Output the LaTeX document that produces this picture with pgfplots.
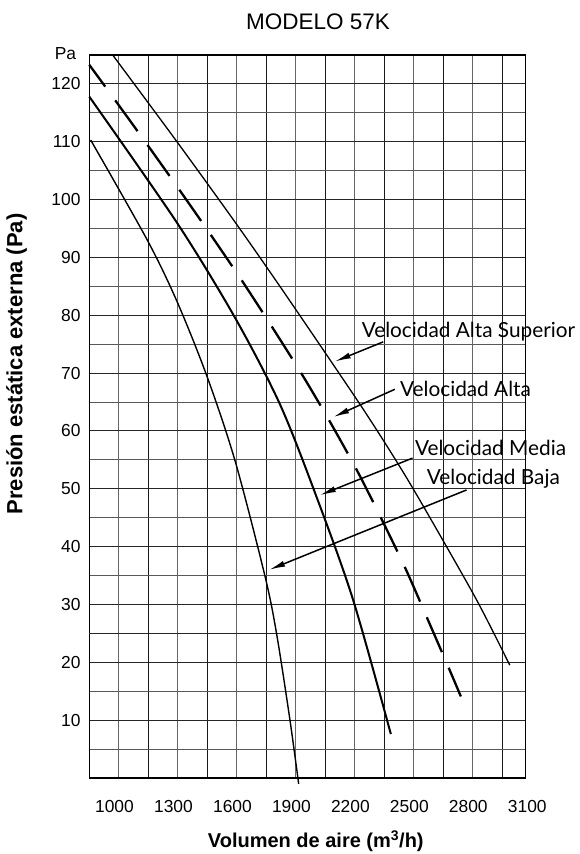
\documentclass[border=0pt]{standalone}
\usepackage{fontspec}
\setmainfont{Liberation Sans}
\newfontfamily\annfont{Lato}
\usepackage{pgfplots}
\pgfplotsset{compat=1.18}
\usetikzlibrary{arrows.meta}

\begin{document}
\begin{tikzpicture}
	\path[use as bounding box] (-89.3bp,-76bp) rectangle (490.7bp,778bp);
	\begin{axis}[
			scale only axis,
			width=436.4bp,
			height=723bp,
			xmin=850, xmax=3070,
			ymin=0, ymax=125,
			clip=false,
			axis line style={line width=1.2bp},
			xtick={1000,1300,...,2800},
			xticklabels={1000,1300,1600,1900,2200,2500,2800},
			minor xtick={1150,1450,...,2950},
			ytick={10,20,...,120},
			yticklabels={10,20,30,40,50,60,70,80,90,100,110,120},
			minor ytick={5,15,...,115},
			extra y ticks={25},
			extra y tick labels={},
			extra y tick style={grid=major, major grid style={line width=2.2bp, black!90}},
			grid=both,
			major x grid style={line width=1bp, black!60},
			minor x grid style={line width=1bp, black!90},
			major y grid style={line width=1bp, black!85},
			minor y grid style={line width=1bp, black!65},
			major tick length=0pt,
			minor tick length=0pt,
			tick label style={font=\fontsize{17.4bp}{20bp}\selectfont},
			xticklabel style={anchor=center, yshift=-28.7bp, xshift=-4.3bp},
			yticklabel style={anchor=east, inner sep=0pt, xshift=-8.6bp},
			title={MODELO 57K},
			title style={at={(axis description cs:0.524,1.047)}, anchor=center, yshift=-7bp,
					font=\fontsize{22.5bp}{25bp}\selectfont},
			xlabel={Volumen de aire (m\textsuperscript{3}/h)},
			xlabel style={at={(axis description cs:0.519,-0.0968)}, anchor=base,
					font=\bfseries\fontsize{20bp}{23bp}\selectfont},
			ylabel={Presión estática externa (Pa)},
			ylabel style={at={(axis description cs:-0.1664,0.5726)}, anchor=center, rotate=0,
					font=\bfseries\fontsize{22bp}{25bp}\selectfont},
		]
		\def\annstyle{\annfont\fontsize{20.8bp}{23bp}\selectfont}

		% Velocidad Baja
		\addplot[smooth, no marks, black, line width=1.4bp] coordinates {
				(857,110.3)
				(1145,93.0)
				(1296,82.4)
				(1447,69.6)
				(1591,54.9)
				(1743,35.0)
				(1803,24.9)
				(1870,10.2)
				(1915,-1.0)
			};

		% Velocidad Media
		\addplot[smooth, no marks, black, line width=2bp] coordinates {
				(850,117.8)
				(1296,96.0)
				(1591,79.6)
				(1820,64.6)
				(2006,48.6)
				(2192,30.8)
				(2384,7.6)
			};

		% Velocidad Alta (dashed)
		\addplot[smooth, no marks, black, line width=2.3bp,
			dash pattern=on 38bp off 17bp, dash phase=11bp] coordinates {
				(850,123.3)
				(981,117.2)
				(1145,109.5)
				(1308,101.7)
				(1472,93.7)
				(1630,85.8)
				(1783,77.8)
				(1935,69.6)
				(2074,61.6)
				(2213,53.1)
				(2345,44.2)
				(2464,35.8)
				(2577,27.0)
				(2689,18.2)
				(2740,14.1)
			};

		% Velocidad Alta Superior
		\addplot[smooth, no marks, black, line width=1.3bp] coordinates {
				(969,125.0)
				(1296,110.0)
				(1600,95.7)
				(1854,83.3)
				(2227,64.6)
				(2421,54.3)
				(2566,46.0)
				(2820,30.8)
				(2989,19.5)
			};

		% annotations
		\node[anchor=base west, inner sep=0pt, font=\annstyle] at (axis cs:2235,76.2) {Velocidad Alta Superior};
		\node[anchor=base west, inner sep=0pt, font=\annstyle] at (axis cs:2430,65.9) {Velocidad Alta};
		\node[anchor=base west, inner sep=0pt, font=\annstyle] at (axis cs:2506,55.7) {Velocidad Media};
		\node[anchor=base west, inner sep=0pt, font=\annstyle] at (axis cs:2566,50.7) {Velocidad Baja};

		\draw[line width=1.5bp, -{Latex[length=16bp,width=6bp]}] (axis cs:2345,75.4) -- (axis cs:2099,72.0);
		\draw[line width=1.5bp, -{Latex[length=16bp,width=6bp]}] (axis cs:2404,67.2) -- (axis cs:2091,62.4);
		\draw[line width=1.5bp, -{Latex[length=16bp,width=6bp]}] (axis cs:2494,55.3) -- (axis cs:2023,48.9);
		\draw[line width=1.5bp, -{Latex[length=16bp,width=6bp]}] (axis cs:2769,49.8) -- (axis cs:1765,36.0);

		% last tick label sits just past the frame
		\node[font=\fontsize{17.4bp}{20bp}\selectfont, anchor=center, xshift=-4.3bp, yshift=-28.7bp] at (axis cs:3100,0) {3100};
		\node[font=\fontsize{17.4bp}{20bp}\selectfont, anchor=east, inner sep=0pt] at (axis description cs:-0.0298,1.0018) {Pa};
	\end{axis}
\end{tikzpicture}
\end{document}
